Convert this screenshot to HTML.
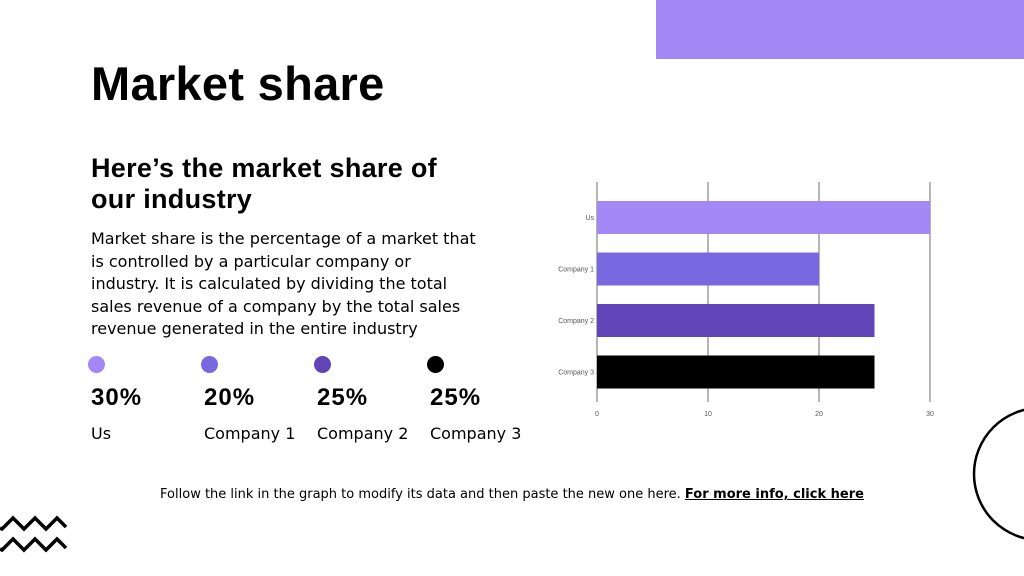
<!DOCTYPE html>
<html><head><meta charset="utf-8"><style>
*{margin:0;padding:0;box-sizing:border-box}
body{width:1024px;height:576px;overflow:hidden;background:#fff;position:relative;font-family:"Liberation Sans","DejaVu Sans",sans-serif;color:#000}
.abs{position:absolute}
h1{position:absolute;left:91px;top:56px;font-size:47px;font-weight:bold;letter-spacing:0.3px}
h2{position:absolute;left:91px;top:153px;font-size:27px;font-weight:bold;line-height:31px;letter-spacing:0.3px}
p.desc{position:absolute;left:91px;top:228px;width:390px;font-family:"DejaVu Sans",sans-serif;font-size:16px;line-height:22.5px}
.dot{position:absolute;top:356px;width:17px;height:17px;border-radius:50%}
.pct{position:absolute;top:384px;font-size:24px;font-weight:bold;letter-spacing:1px}
.lbl{position:absolute;top:424px;font-family:"DejaVu Sans",sans-serif;font-size:16px}
.foot{position:absolute;left:0;width:1024px;top:487px;text-align:center;font-family:"DejaVu Sans",sans-serif;font-size:13px}
.foot b{text-decoration:underline}
</style></head><body>
<div class="abs" style="left:656px;top:0;width:368px;height:59px;background:#a388f5"></div>
<h1>Market share</h1>
<h2>Here’s the market share of<br>our industry</h2>
<p class="desc">Market share is the percentage of a market that is controlled by a particular company or industry. It is calculated by dividing the total sales revenue of a company by the total sales revenue generated in the entire industry</p>

<div class="dot" style="left:88px;background:#a388f5"></div>
<div class="dot" style="left:201px;background:#7968e0"></div>
<div class="dot" style="left:314px;background:#6044b8"></div>
<div class="dot" style="left:427px;background:#000"></div>
<div class="pct" style="left:91px">30%</div>
<div class="pct" style="left:204px">20%</div>
<div class="pct" style="left:317px">25%</div>
<div class="pct" style="left:430px">25%</div>
<div class="lbl" style="left:91px">Us</div>
<div class="lbl" style="left:204px">Company 1</div>
<div class="lbl" style="left:317px">Company 2</div>
<div class="lbl" style="left:430px">Company 3</div>

<svg class="abs" id="chart" style="left:0;top:0" width="1024" height="576"></svg>

<svg class="abs" style="left:0;top:510px" width="80" height="50">
<polyline points="0,18 2,19 13,8 24,19 35,8 46,19 57,8 66,17" fill="none" stroke="#000" stroke-width="3.5"/>
<polyline points="0,39 2,40 13,29 24,40 35,29 46,40 57,29 66,38" fill="none" stroke="#000" stroke-width="3.5"/>
</svg>
<svg class="abs" style="left:960px;top:400px" width="64" height="150">
<circle cx="80" cy="74" r="66" fill="none" stroke="#000" stroke-width="2.5"/>
</svg>

<div class="foot">Follow the link in the graph to modify its data and then paste the new one here. <b>For more info, click here</b></div>

<script>
const categories=["Us","Company 1","Company 2","Company 3"];
const values=[30,20,25,25];
const ticks=[0,10,20,30];
const colors=["#a388f5","#7968e0","#6044b8","#000000"];
(function(){
const svg=document.getElementById('chart');
const NS="http://www.w3.org/2000/svg";
const x0=597,x1=930,xmax=30,gTop=182,gBot=402,band=51.5,bh=33,firstY=201;
const xs=v=>x0+(v/xmax)*(x1-x0);
function mk(t,a){const e=document.createElementNS(NS,t);for(const k in a)e.setAttribute(k,a[k]);svg.appendChild(e);return e;}
ticks.forEach(t=>{
 const g=mk('line',{x1:xs(t),x2:xs(t),y1:gTop,y2:gBot,stroke:'#9e9e9e','stroke-width':1.5});
 
 
 const l=mk('text',{x:xs(t),y:416,'font-size':7,'text-anchor':'middle',fill:'#555','font-family':'Liberation Sans'});
 l.textContent=t;
 
 
});
categories.forEach((c,i)=>{
 const y=firstY+i*band;
 const r=mk('rect',{x:x0,y:y,width:xs(values[i])-x0,height:bh,fill:colors[i]});
 
 
 const t=mk('text',{x:594,y:y+bh/2+2.5,'font-size':7,'text-anchor':'end',fill:'#555','font-family':'Liberation Sans'});
 t.textContent=c;
 
 
});
})();
</script>
</body></html>
